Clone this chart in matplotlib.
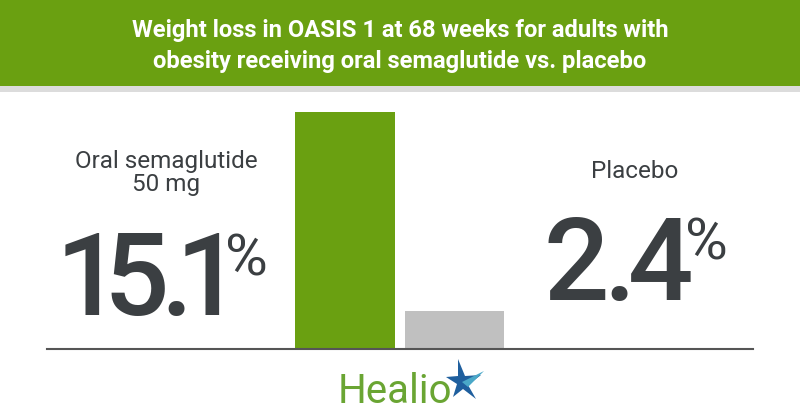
import matplotlib
matplotlib.use("Agg")
import matplotlib.pyplot as plt
from matplotlib.patches import Rectangle, Polygon
from matplotlib.textpath import TextPath
from matplotlib.font_manager import FontProperties

categories = ["Oral semaglutide\n50 mg", "Placebo"]
values = [15.1, 2.4]
value_labels = ["15.1", "2.4"]
title = "Weight loss in OASIS 1 at 68 weeks for adults with\nobesity receiving oral semaglutide vs. placebo"

GREEN = "#6aa011"
GRAY_BAR = "#c0c0c0"
TEXT = "#3b3f42"

fig = plt.figure(figsize=(8, 4.2), dpi=100)
fig.patch.set_facecolor("white")

def fx(px):
    return px / 800

def fy(py):
    return 1 - py / 420

# header
fig.patches.append(Rectangle((0, fy(86)), 1, 86 / 420, transform=fig.transFigure,
                             facecolor=GREEN, edgecolor="none", zorder=0))
fig.patches.append(Rectangle((0, fy(92)), 1, 6 / 420, transform=fig.transFigure,
                             facecolor="#dcdcdc", edgecolor="none", zorder=0))
fig.text(0.5, fy(46), title, ha="center", va="center", color="white",
         fontsize=17.1, fontweight="bold", linespacing=1.42,
         family=["Liberation Sans Narrow", "Roboto", "DejaVu Sans"], fontstretch="condensed")

# bars
ax = fig.add_axes([fx(47), fy(349), 706 / 800, 249 / 420])
ax.bar([0, 1], values, width=0.91, color=[GREEN, GRAY_BAR], zorder=2)
ax.set_xlim(-2.721, 3.726)
ax.set_ylim(0, values[0] * 249 / 237)
for s in ["top", "right", "left"]:
    ax.spines[s].set_visible(False)
ax.spines["bottom"].set_color("#555555")
ax.spines["bottom"].set_linewidth(1.5)
ax.set_xticks([])
ax.set_yticks([])
ax.patch.set_alpha(0)

# labels
fig.text(fx(166), fy(173), categories[0], ha="center", va="center", color=TEXT,
         fontsize=17.5, family="Roboto", linespacing=1.05)
fig.text(fx(635), fy(171), categories[1], ha="center", va="center", color=TEXT,
         fontsize=17.5, family="Roboto")

NUM_SIZE = 83
num_prop = FontProperties(family="Roboto", weight="medium", size=NUM_SIZE)


def tight_number(label, ink_left_px, baseline_px, digit_gap, dot_before, dot_after):
    """Draw a number char-by-char, spacing glyph ink with small fixed gaps."""
    x = ink_left_px
    for i, ch in enumerate(label):
        ext = TextPath((0, 0), ch, size=NUM_SIZE, prop=num_prop).get_extents()
        xmin = ext.x0 * 100 / 72
        w = ext.width * 100 / 72
        fig.text(fx(x - xmin), fy(baseline_px), ch, ha="left", va="baseline", color=TEXT,
                 fontproperties=num_prop)
        nxt = label[i + 1] if i + 1 < len(label) else ""
        if nxt == ".":
            gap = dot_before
        elif ch == ".":
            gap = dot_after
        else:
            gap = digit_gap
        x += w + gap


tight_number(value_labels[0], 65, 315, 12, 4, 1)
fig.text(fx(225), fy(275), "%", ha="left", va="baseline", color=TEXT,
         fontsize=42, family="Roboto")
tight_number(value_labels[1], 548, 300, 12, 6, 4)
fig.text(fx(685), fy(260), "%", ha="left", va="baseline", color=TEXT,
         fontsize=42, family="Roboto")

# logo
fig.text(fx(338), fy(403), "Healio", ha="left", va="baseline", color="#6aa533",
         fontsize=29, family=["Liberation Sans Narrow", "Roboto"], fontstretch="condensed")
star1 = [(458, 359), (465, 376), (481, 375), (468, 385), (476, 399), (463, 389),
         (453, 397), (457, 384), (446, 377), (458, 376)]
fig.patches.append(Polygon([(fx(x), fy(y)) for x, y in star1], closed=True,
                           transform=fig.transFigure, facecolor="#1f5f9e", edgecolor="none"))
fig.patches.append(Polygon([(fx(x), fy(y)) for x, y in [(462, 382), (484, 371), (468, 387)]],
                           closed=True, transform=fig.transFigure, facecolor="#4aa8c8", edgecolor="none"))

fig.savefig("out.png", dpi=100, facecolor="white")
